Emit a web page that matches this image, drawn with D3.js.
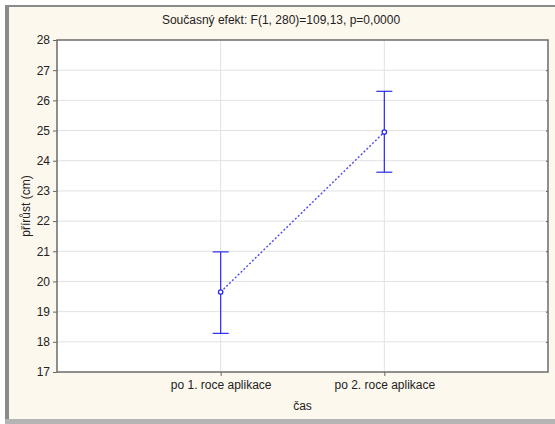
<!DOCTYPE html>
<html>
<head>
<meta charset="utf-8">
<script src="https://cdn.jsdelivr.net/npm/d3@7"></script>
<style>
  html, body { margin: 0; padding: 0; background: #ffffff; }
  svg { display: block; }
  text { font-family: Arial, "Liberation Sans", sans-serif; fill: #222; }
</style>
</head>
<body>
<div id="chart"></div>
<script>
// Mean growth (cm) with confidence interval per time point
const categories = ["po 1. roce aplikace", "po 2. roce aplikace"];
const means = [19.65, 24.95];
const lower = [18.28, 23.62];
const upper = [20.98, 26.30];
const yTicks = [17, 18, 19, 20, 21, 22, 23, 24, 25, 26, 27, 28];

const titleText = "Současný efekt: F(1, 280)=109,13, p=0,0000";
const xLabel = "čas";
const yLabel = "přírůst (cm)";

const W = 555, H = 424;
const plot = { left: 57, right: 548, top: 40, bottom: 372 };

const svg = d3.select("#chart").append("svg")
  .attr("width", W).attr("height", H);

// window frame
svg.append("rect").attr("x", 0).attr("y", 0).attr("width", W).attr("height", H).attr("fill", "#ffffff");
svg.append("rect").attr("x", 6).attr("y", 6).attr("width", W - 6).attr("height", H - 6).attr("fill", "#fdf8ee");
svg.append("rect").attr("x", 5).attr("y", 5).attr("width", 4).attr("height", H - 5).attr("fill", "#8a8a8a");
svg.append("rect").attr("x", 5).attr("y", 5).attr("width", W - 5).attr("height", 2).attr("fill", "#8a8a8a");
svg.append("rect").attr("x", 5).attr("y", 419).attr("width", W - 5).attr("height", 5).attr("fill", "#b4b4b4");

const x = d3.scalePoint().domain(categories).range([plot.left, plot.right]).padding(1);
const y = d3.scaleLinear().domain([17, 28]).range([plot.bottom, plot.top]);

// plot area
svg.append("rect")
  .attr("x", plot.left).attr("y", plot.top)
  .attr("width", plot.right - plot.left).attr("height", plot.bottom - plot.top)
  .attr("fill", "#ffffff");

// grid
svg.append("g").selectAll("line").data(yTicks.filter(t => t > 17 && t < 28)).join("line")
  .attr("x1", plot.left).attr("x2", plot.right)
  .attr("y1", d => y(d)).attr("y2", d => y(d))
  .attr("stroke", "#e2e2e2").attr("stroke-width", 1);
svg.append("g").selectAll("line").data(categories).join("line")
  .attr("x1", d => x(d)).attr("x2", d => x(d))
  .attr("y1", plot.top).attr("y2", plot.bottom)
  .attr("stroke", "#e2e2e2").attr("stroke-width", 1);

// axes
const yAxis = svg.append("g").attr("transform", `translate(${plot.left},0)`)
  .call(d3.axisLeft(y).tickValues(yTicks).tickSize(4).tickSizeOuter(0).tickPadding(3));
yAxis.select(".domain").remove();
yAxis.selectAll("line").attr("stroke", "#666");
yAxis.selectAll("text").attr("font-size", 12).attr("fill", "#222");

const yRight = svg.append("g").attr("transform", `translate(${plot.right},0)`)
  .call(d3.axisLeft(y).tickValues(yTicks.filter(t => t > 17 && t < 28)).tickSize(2).tickFormat(""));
yRight.select(".domain").remove();
yRight.selectAll("line").attr("stroke", "#555");

const xAxis = svg.append("g").attr("transform", `translate(0,${plot.bottom})`)
  .call(d3.axisBottom(x).tickSize(4).tickSizeOuter(0).tickPadding(4));
xAxis.select(".domain").remove();
xAxis.selectAll("line").attr("stroke", "#666");
xAxis.selectAll("text").attr("font-size", 12).attr("fill", "#222");

// plot border
svg.append("rect")
  .attr("x", plot.left).attr("y", plot.top)
  .attr("width", plot.right - plot.left).attr("height", plot.bottom - plot.top)
  .attr("fill", "none").attr("stroke", "#6b6b6b").attr("stroke-width", 1.5);

// connecting line
const line = d3.line().x((d, i) => x(categories[i])).y(d => y(d));
svg.append("path").datum(means)
  .attr("d", line).attr("fill", "none")
  .attr("stroke", "#4a4af0").attr("stroke-width", 1.4)
  .attr("stroke-dasharray", "2,2");

// error bars
const color = "#2a2aee";
const eb = svg.append("g").selectAll("g").data(categories).join("g");
eb.append("line")
  .attr("x1", d => x(d)).attr("x2", d => x(d))
  .attr("y1", (d, i) => y(lower[i])).attr("y2", (d, i) => y(upper[i]))
  .attr("stroke", color).attr("stroke-width", 1.2);
eb.append("line")
  .attr("x1", d => x(d) - 8).attr("x2", d => x(d) + 8)
  .attr("y1", (d, i) => y(upper[i])).attr("y2", (d, i) => y(upper[i]))
  .attr("stroke", color).attr("stroke-width", 1.2);
eb.append("line")
  .attr("x1", d => x(d) - 8).attr("x2", d => x(d) + 8)
  .attr("y1", (d, i) => y(lower[i])).attr("y2", (d, i) => y(lower[i]))
  .attr("stroke", color).attr("stroke-width", 1.2);
eb.append("circle")
  .attr("cx", d => x(d)).attr("cy", (d, i) => y(means[i])).attr("r", 2.2)
  .attr("fill", "#ffffff").attr("stroke", color).attr("stroke-width", 1.3);

// titles
svg.append("text").attr("x", 281).attr("y", 24).attr("text-anchor", "middle")
  .attr("font-size", 12).text(titleText);
svg.append("text").attr("x", (plot.left + plot.right) / 2).attr("y", 410).attr("text-anchor", "middle")
  .attr("font-size", 12).text(xLabel);
svg.append("text").attr("transform", `translate(30,${(plot.top + plot.bottom) / 2}) rotate(-90)`)
  .attr("text-anchor", "middle").attr("font-size", 12).text(yLabel);
</script>
</body>
</html>
